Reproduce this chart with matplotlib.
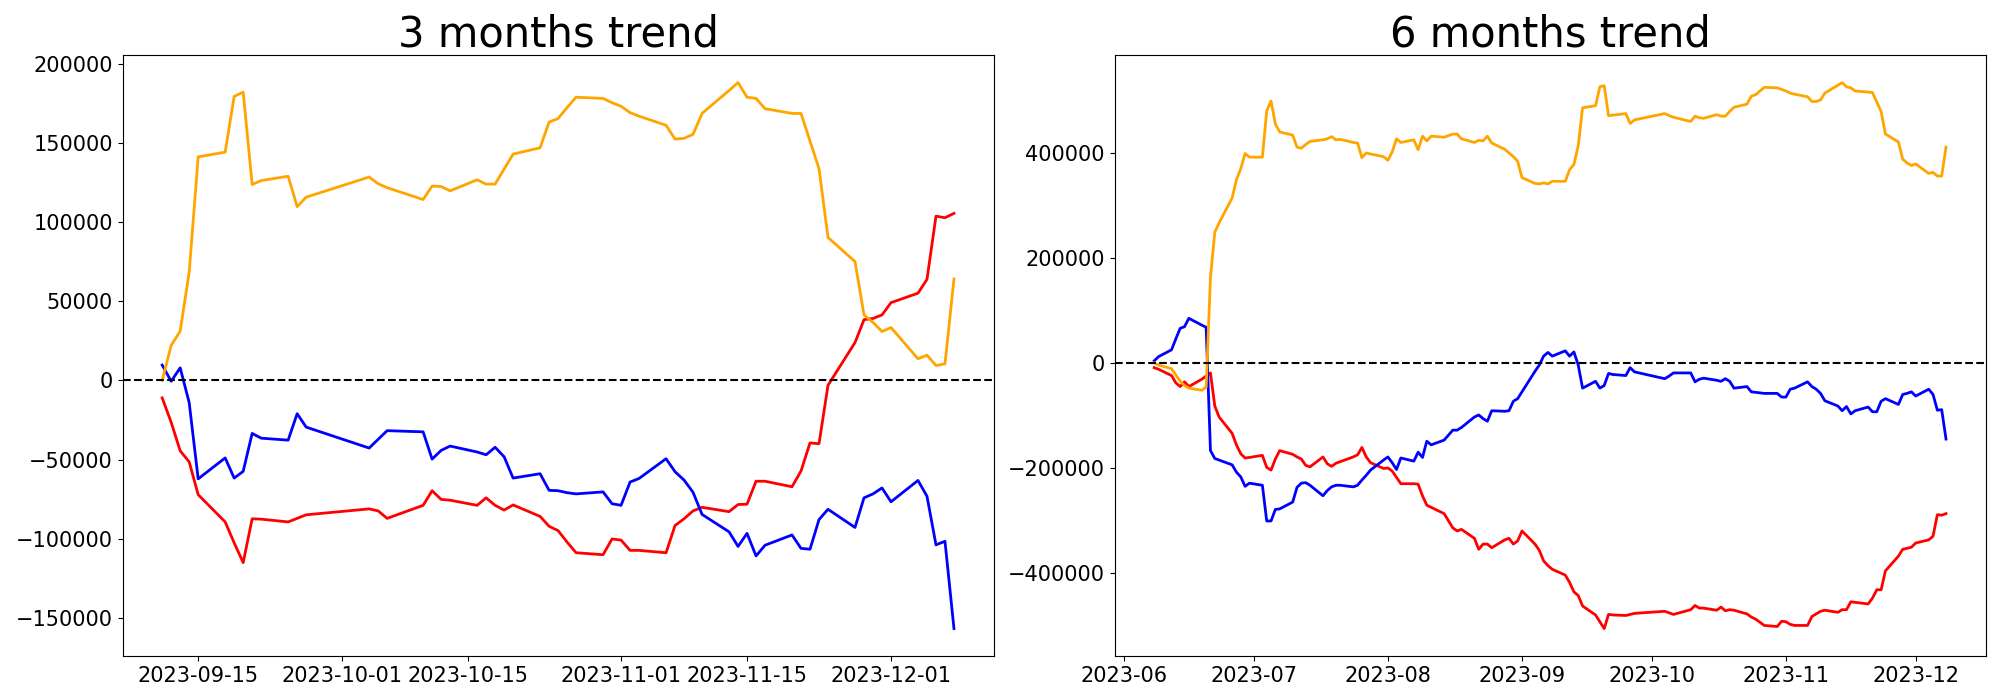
import numpy as np
import pandas as pd
import matplotlib
matplotlib.use("Agg")
import matplotlib.pyplot as plt
import matplotlib.dates as mdates

# Korean market holidays in the window (no trading)
HOLIDAYS = ["2023-06-06", "2023-08-15", "2023-09-28", "2023-09-29",
            "2023-10-02", "2023-10-03", "2023-10-09"]


def trading_days(start, end):
    days = pd.bdate_range(start, end)
    return days[~days.isin(pd.to_datetime(HOLIDAYS))]


# ---- 3 months (cumulative from 2023-09-11) ----
dates_3m = trading_days("2023-09-11", "2023-12-08")

orange_3m = [0, 22250, 31250, 68500, 141500,
             144500, 179750, 182500, 124000, 126500,
             129250, 110000, 116000,
             128750, 124500, 122000,
             114500, 123000, 122750, 120000,
             127000, 124250, 124250, 133750, 143250,
             147250, 163500, 165750, 172750, 179250,
             178500, 175750, 173500, 169500, 167250,
             161500, 152750, 153250, 155750, 169000,
             183500, 188500, 179250, 178500, 172000,
             169000, 169000, 151500, 134000, 90500,
             75250, 41500, 36750, 31000, 33500,
             13750, 16000, 9500, 10500, 64250]

blue_3m = [9750, -500, 8000, -14000, -62250,
           -49000, -61750, -57500, -33500, -36500,
           -37750, -21000, -29500,
           -42750, -37250, -31750,
           -32500, -49750, -44250, -41500,
           -45250, -47000, -42250, -48250, -61750,
           -59000, -69500, -69750, -71000, -71750,
           -70500, -78000, -79000, -64250, -62000,
           -49500, -57750, -63000, -70750, -84750,
           -95750, -105000, -96750, -111000, -104250,
           -97750, -106250, -106750, -88000, -81500,
           -93000, -74250, -71750, -68000, -76750,
           -63250, -73250, -104000, -101750, -157000]

red_3m = [-11000, -26500, -44500, -51500, -72250,
          -89500, -102750, -115250, -87500, -87750,
          -89500, -87250, -85000,
          -81250, -82500, -87250,
          -79000, -69750, -75250, -75750,
          -79000, -74250, -79000, -82000, -78750,
          -86000, -92250, -95000, -102250, -109000,
          -110250, -100250, -101000, -107500, -107500,
          -109000, -91750, -87500, -82500, -80250,
          -83000, -78500, -78250, -63750, -63750,
          -67250, -57250, -39500, -40000, -3000,
          24000, 38500, 39250, 41500, 49250,
          55250, 64000, 104000, 103000, 105750]

# ---- 6 months (cumulative from 2023-06-08), values in thousands ----
dates_6m = trading_days("2023-06-08", "2023-12-08")

orange_6m = [1, -3, -10, -22, -34, -42, -47, -51, -45, 164, 250, 268, 315, 350, 371, 400, 393,
             393, 481, 500, 456, 441, 435, 412, 410, 417, 423, 426, 428, 432, 426, 427, 421, 420, 392, 401, 399, 394,
             387, 403, 428, 421, 426, 407, 433, 424, 433, 431, 437, 437, 428, 421, 425, 424, 433, 420, 408, 401, 394, 385,
             354, 343, 342, 344, 342, 347, 347, 369, 379, 415, 487, 491, 527, 529, 472, 473, 476, 457, 464,
             476, 472, 469, 461, 471, 468, 467, 474, 471, 471, 480, 488, 494, 509, 512, 519, 526, 525, 522,
             519, 515, 513, 508, 499, 499, 502, 515, 530, 535, 527, 525, 519, 517, 516, 498, 480, 437, 422, 389, 382, 377,
             380, 362, 364, 357, 357, 412]

blue_6m = [5, 13, 26, 47, 67, 70, 86, 73, 69, -166, -181, -184, -193, -207, -216, -234, -228,
           -232, -300, -300, -278, -277, -264, -236, -228, -227, -232, -252, -242, -235, -232, -232, -235, -232, -222, -213, -203, -184,
           -178, -189, -202, -180, -186, -169, -179, -148, -155, -146, -127, -127, -122, -102, -98, -105, -110, -90, -91, -90, -72, -67,
           -54, -15, -3, 14, 21, 14, 24, 14, 22, -3, -47, -34, -47, -42, -19, -21, -23, -8, -16,
           -29, -24, -18, -18, -35, -30, -28, -32, -34, -29, -34, -47, -44, -54, -55, -56, -57, -57, -64,
           -64, -49, -47, -35, -44, -49, -57, -71, -81, -90, -82, -96, -90, -83, -92, -92, -72, -67, -78, -59, -57, -54,
           -62, -49, -59, -89, -88, -144]

red_6m = [-8, -11, -23, -37, -44, -35, -44, -30, -24, -18, -81, -102, -133, -155, -172, -180, -179,
          -175, -198, -203, -182, -166, -173, -178, -182, -194, -197, -178, -191, -196, -190, -187, -178, -174, -160, -178, -189, -200,
          -199, -205, -217, -229, -229, -230, -252, -270, -274, -286, -313, -319, -316, -333, -354, -344, -344, -351, -336, -333, -344, -338,
          -319, -344, -356, -376, -385, -392, -403, -417, -435, -442, -462, -479, -492, -505, -478, -479, -480, -478, -476,
          -472, -475, -478, -469, -461, -466, -466, -470, -464, -471, -469, -470, -477, -483, -487, -493, -499, -501, -491,
          -492, -497, -499, -499, -482, -477, -472, -470, -474, -469, -469, -454, -455, -458, -447, -431, -431, -395, -367, -354, -352, -350,
          -342, -336, -329, -288, -289, -286]

fig, axes = plt.subplots(1, 2, figsize=(20, 7), dpi=100)
fig.subplots_adjust(left=0.0613, right=0.9928, bottom=0.063, top=0.921, wspace=0.139)

panels = [
    (axes[0], dates_3m, np.array(orange_3m), np.array(blue_3m), np.array(red_3m), "3 months trend"),
    (axes[1], dates_6m, np.array(orange_6m) * 1000, np.array(blue_6m) * 1000, np.array(red_6m) * 1000, "6 months trend"),
]

for ax, dates, orange, blue, red, title in panels:
    ax.plot(dates, red, color="red", linewidth=2)
    ax.plot(dates, blue, color="blue", linewidth=2)
    ax.plot(dates, orange, color="orange", linewidth=2)
    ax.axhline(0, color="black", linestyle="--", linewidth=1.5)
    ax.set_title(title, fontsize=30)
    ax.tick_params(axis="both", labelsize=15)

axes[0].xaxis.set_major_locator(mdates.DayLocator(bymonthday=[1, 15]))
axes[0].xaxis.set_major_formatter(mdates.DateFormatter("%Y-%m-%d"))
axes[1].xaxis.set_major_locator(mdates.MonthLocator())
axes[1].xaxis.set_major_formatter(mdates.DateFormatter("%Y-%m"))

plt.savefig("out.png", dpi=100)
